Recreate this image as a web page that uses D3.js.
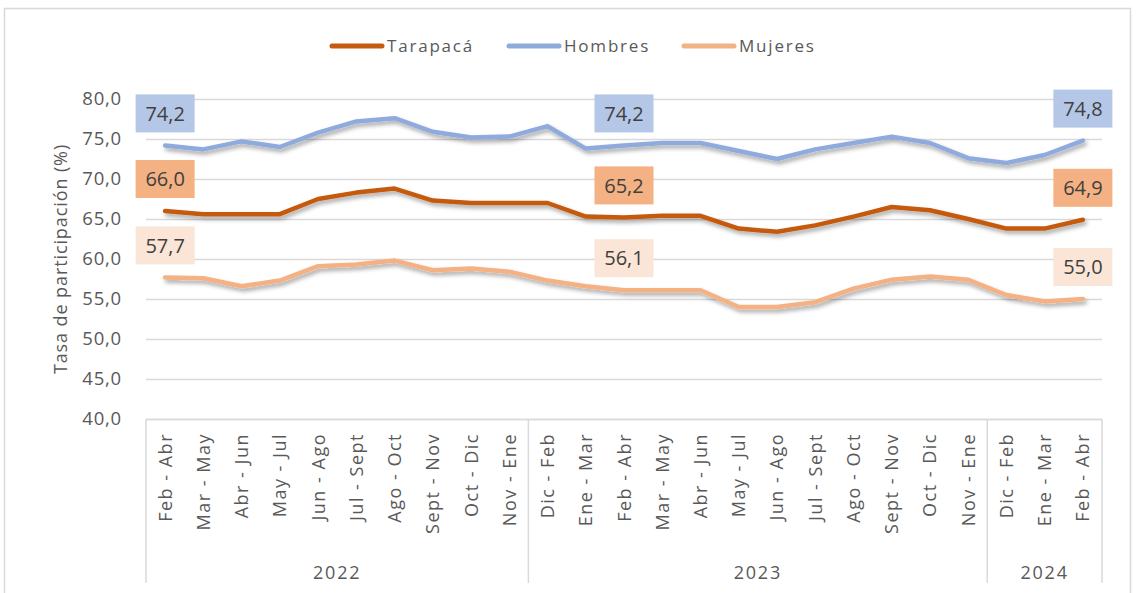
<!DOCTYPE html>
<html>
<head>
	<script src="https://cdn.jsdelivr.net/npm/d3@7"></script>
	<style>
		html, body {
			padding: 0;
			margin: 0;
			background: #fff;
		}
		text {
			font-family: "Open Sans", sans-serif;
		}
	</style>
</head>
<body>
	<script>
		var width = 1138, height = 593;

		// Data
		var periods = ["Feb - Abr", "Mar - May", "Abr - Jun", "May - Jul", "Jun - Ago", "Jul - Sept", "Ago - Oct", "Sept - Nov", "Oct - Dic", "Nov - Ene",
			"Dic - Feb", "Ene - Mar", "Feb - Abr", "Mar - May", "Abr - Jun", "May - Jul", "Jun - Ago", "Jul - Sept", "Ago - Oct", "Sept - Nov", "Oct - Dic", "Nov - Ene",
			"Dic - Feb", "Ene - Mar", "Feb - Abr"];
		var years = ["2022", "2023", "2024"];
		var yearCounts = [10, 12, 3];

		var tarapaca = [66.0, 65.6, 65.6, 65.6, 67.5, 68.3, 68.8, 67.3, 67.0, 67.0,
			67.0, 65.3, 65.2, 65.4, 65.4, 63.8, 63.4, 64.2, 65.3, 66.5, 66.1, 65.0,
			63.8, 63.8, 64.9];
		var hombres = [74.2, 73.7, 74.7, 74.0, 75.8, 77.2, 77.6, 75.9, 75.2, 75.3,
			76.6, 73.8, 74.2, 74.5, 74.5, 73.5, 72.5, 73.7, 74.5, 75.3, 74.5, 72.6,
			72.0, 73.0, 74.8];
		var mujeres = [57.7, 57.6, 56.6, 57.3, 59.1, 59.3, 59.8, 58.6, 58.8, 58.4,
			57.3, 56.6, 56.1, 56.1, 56.1, 54.0, 54.0, 54.6, 56.3, 57.4, 57.8, 57.4,
			55.5, 54.7, 55.0];
		var labelIdx = [0, 12, 24];
		var yTicks = [40, 45, 50, 55, 60, 65, 70, 75, 80];

		var series = [
			{name: "Tarapacá", values: tarapaca, color: "#C55A11", box: "#F4B183"},
			{name: "Hombres", values: hombres, color: "#8FAADC", box: "#B4C7E7"},
			{name: "Mujeres", values: mujeres, color: "#F4B183", box: "#FBE5D6"}
		];

		var svg = d3.select('body').append('svg')
			.attr('width', width)
			.attr('height', height);

		var defs = svg.append('defs');
		var f = defs.append('filter').attr('id', 'shadow')
			.attr('x', '-5%').attr('y', '-50%').attr('width', '110%').attr('height', '200%');
		f.append('feDropShadow')
			.attr('dx', 2).attr('dy', 3).attr('stdDeviation', 2)
			.attr('flood-color', '#000').attr('flood-opacity', 0.35);

		// chart border
		svg.append('rect')
			.attr('x', 4.5).attr('y', 8.5)
			.attr('width', 1126).attr('height', 620)
			.attr('fill', 'none').attr('stroke', '#d9d9d9').attr('stroke-width', 1.5);

		var plotL = 146, plotR = 1102, plotT = 99, plotB = 419;

		var x = d3.scaleBand()
			.domain(d3.range(periods.length))
			.range([plotL, plotR]);
		var y = d3.scaleLinear().domain([40, 80]).range([plotB, plotT]);

		// grid
		svg.append('g').selectAll('line')
			.data(yTicks)
			.enter().append('line')
			.attr('x1', plotL).attr('x2', plotR)
			.attr('y1', function(d) { return Math.round(y(d)) + 0.5; })
			.attr('y2', function(d) { return Math.round(y(d)) + 0.5; })
			.attr('stroke', '#d9d9d9').attr('stroke-width', 1.5);

		// y axis labels
		var yAxis = d3.axisLeft(y).tickValues(yTicks)
			.tickFormat(function(d) { return d3.format('.1f')(d).replace('.', ','); })
			.tickSize(0).tickPadding(0);
		var yg = svg.append('g').attr('transform', 'translate(122,0)').call(yAxis);
		yg.select('.domain').remove();
		yg.selectAll('text')
			.attr('fill', '#595959')
			.style('font-size', '18.5px')
			.style('letter-spacing', '0.8px')
			.style('font-family', '"Open Sans", sans-serif');

		svg.append('text')
			.attr('transform', 'translate(67,259) rotate(-90)')
			.attr('text-anchor', 'middle')
			.attr('fill', '#595959')
			.style('font-size', '18px')
			.style('letter-spacing', '0.9px')
			.text('Tasa de participación (%)');

		// x axis: month labels
		var xg = svg.append('g');
		xg.selectAll('text.period')
			.data(periods)
			.enter().append('text')
			.attr('class', 'period')
			.attr('transform', function(d, i) {
				return 'translate(' + (x(i) + x.bandwidth() / 2 + 6.5) + ',433) rotate(-90)';
			})
			.attr('text-anchor', 'end')
			.attr('fill', '#595959')
			.style('font-size', '18px')
			.style('letter-spacing', '1.5px')
			.text(function(d) { return d; });

		// year groups
		var starts = [0];
		yearCounts.forEach(function(c, i) { starts.push(starts[i] + c); });
		var sepX = starts.map(function(s) { return s < periods.length ? x(s) : plotR; });

		xg.append('line')
			.attr('x1', plotL).attr('x2', plotR)
			.attr('y1', plotB + 0.5).attr('y2', plotB + 0.5)
			.attr('stroke', '#d9d9d9').attr('stroke-width', 1.5);
		xg.selectAll('line.sep')
			.data(sepX)
			.enter().append('line')
			.attr('class', 'sep')
			.attr('x1', function(d) { return d; }).attr('x2', function(d) { return d; })
			.attr('y1', plotB).attr('y2', 583)
			.attr('stroke', '#d9d9d9').attr('stroke-width', 1.5);
		xg.selectAll('text.year')
			.data(years)
			.enter().append('text')
			.attr('class', 'year')
			.attr('x', function(d, i) { return (sepX[i] + sepX[i + 1]) / 2; })
			.attr('y', 579)
			.attr('text-anchor', 'middle')
			.attr('fill', '#595959')
			.style('font-size', '18px')
			.style('letter-spacing', '1.8px')
			.text(function(d) { return d; });

		// lines
		var line = d3.line()
			.x(function(d, i) { return x(i) + x.bandwidth() / 2; })
			.y(function(d) { return y(d); });

		svg.append('g').selectAll('path')
			.data(series)
			.enter().append('path')
			.attr('d', function(s) { return line(s.values); })
			.attr('fill', 'none')
			.attr('stroke', function(s) { return s.color; })
			.attr('stroke-width', 4.5)
			.attr('stroke-linejoin', 'round')
			.attr('stroke-linecap', 'round')
			.attr('filter', 'url(#shadow)');

		// data labels
		series.forEach(function(s) {
			var g = svg.append('g');
			labelIdx.forEach(function(i) {
				var cx = x(i) + x.bandwidth() / 2;
				var cy = y(s.values[i]) - 32;
				g.append('rect')
					.attr('x', cx - 29.5).attr('y', cy - 19)
					.attr('width', 59).attr('height', 38)
					.attr('fill', s.box);
				g.append('text')
					.attr('x', cx).attr('y', cy)
					.attr('dy', '0.36em')
					.attr('text-anchor', 'middle')
					.attr('fill', '#404040')
					.style('font-size', '20px')
					.text(d3.format('.1f')(s.values[i]).replace('.', ','));
			});
		});

		// legend
		var legendX = [330, 507, 682];
		var lg = svg.append('g').selectAll('g')
			.data(series)
			.enter().append('g')
			.attr('transform', function(d, i) { return 'translate(' + legendX[i] + ',46)'; });
		lg.append('line')
			.attr('x1', 2).attr('x2', 52)
			.attr('stroke', function(d) { return d.color; })
			.attr('stroke-width', 5)
			.attr('stroke-linecap', 'round');
		lg.append('text')
			.attr('x', 57).attr('dy', '0.36em')
			.attr('fill', '#595959')
			.style('font-size', '17px')
			.style('letter-spacing', '1.8px')
			.text(function(d) { return d.name; });
	</script>
</body>
</html>
